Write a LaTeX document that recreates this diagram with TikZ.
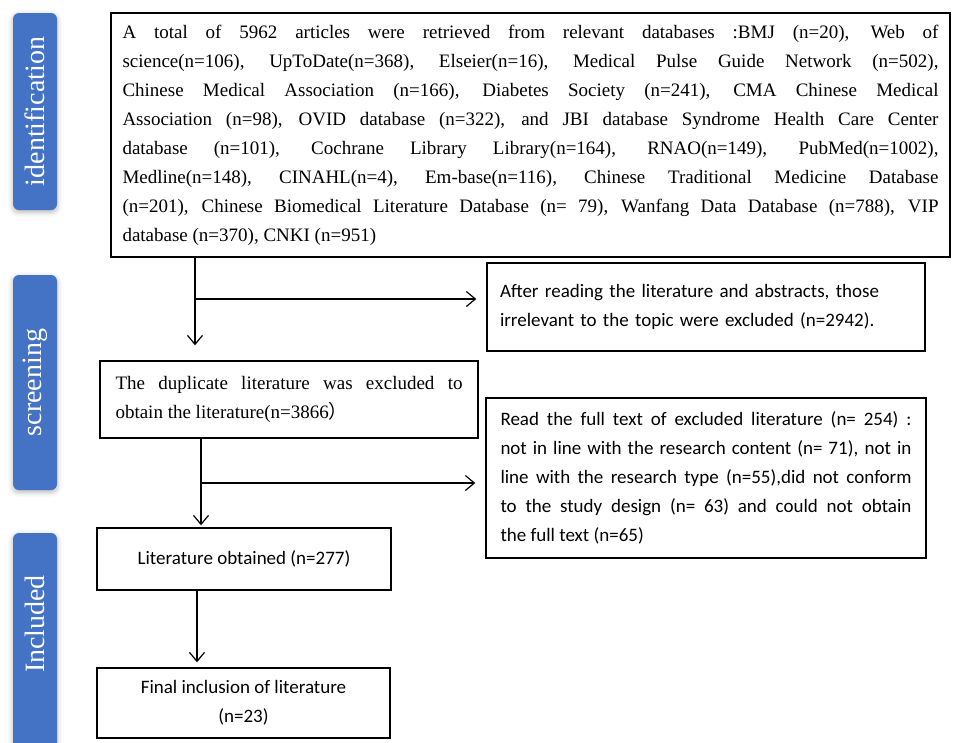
\documentclass[tikz,border=0pt]{standalone}
\usepackage{fontspec}
\setmainfont{Liberation Serif}
\newfontfamily\calfont{Carlito}
\newfontfamily\cjk{Noto Sans CJK SC}
\usetikzlibrary{arrows.meta,shadows.blur}
\definecolor{tabblue}{RGB}{68,114,196}

\begin{document}
\begin{tikzpicture}[
    x=1pt,y=-1pt,
    tab/.style={fill=tabblue,rounded corners=6pt,rotate=90,text=white,
      minimum height=44pt,inner sep=0pt,font=\fontsize{28}{30}\selectfont,
      blur shadow={shadow xshift=0pt,shadow yshift=-2pt,shadow blur radius=5pt,shadow opacity=30}},
    box/.style={draw,line width=1.4pt,inner sep=0pt},
    serifbox/.style={box,font=\fontsize{19}{29}\selectfont\sloppy,align=justify},
    calbox/.style={box,font=\calfont\fontsize{19}{29}\selectfont\sloppy},
    >={Straight Barb[length=9pt,width=15pt]},
    line width=1.2pt]
  \path[use as bounding box,clip] (0,0) rectangle (955,742);

  % phase tabs
  \node[tab,minimum width=197pt] (ident) at (35,111.5) {identification};
  \node[tab,minimum width=215pt] (screen) at (35,382.5) {screening};
  \node[tab,minimum width=227pt] (incl) at (35,646.5) {\hspace*{45pt}Included};

  % boxes
  \node[serifbox,line width=2.2pt,minimum width=839pt,minimum height=244pt,text width=816pt]
    (search) at (530.5,135) {A total of 5962 articles were retrieved from relevant databases :BMJ (n=20), Web of\linebreak
    science(n=106), UpToDate(n=368), Elseier(n=16), Medical Pulse Guide Network (n=502),\linebreak
    Chinese Medical Association (n=166), Diabetes Society (n=241), CMA Chinese Medical\linebreak
    Association (n=98), OVID database (n=322), and JBI database Syndrome Health Care Center\linebreak
    database (n=101), Cochrane Library Library(n=164), RNAO(n=149), PubMed(n=1002),\linebreak
    Medline(n=148), CINAHL(n=4), Em-base(n=116), Chinese Traditional Medicine Database\linebreak
    (n=201), Chinese Biomedical Literature Database (n= 79), Wanfang Data Database (n=788), VIP\linebreak
    database (n=370), CNKI (n=951)};
  \node[calbox,align=left,minimum width=438pt,minimum height=88pt,text width=412pt]
    (irrel) at (706,307) {After reading the literature and abstracts, those\\
    irrelevant to the topic were excluded (n=2942).};
  \node[serifbox,minimum width=378pt,minimum height=77pt,text width=347pt]
    (dedup) at (289,399.5) {The duplicate literature was excluded to\linebreak
    obtain the literature(n=3866{\cjk ）}};
  \node[calbox,align=justify,minimum width=440pt,minimum height=160pt,text width=411pt]
    (fulltext) at (706,478) {Read the full text of excluded literature (n= 254) :\linebreak
    not in line with the research content (n= 71), not in\linebreak
    line with the research type (n=55),did not conform\linebreak
    to the study design (n= 63) and could not obtain\linebreak
    the full text (n=65)};
  \node[calbox,align=center,minimum width=294pt,minimum height=62pt]
    (obtained) at (244,559) {Literature obtained (n=277)};
  \node[calbox,align=center,minimum width=293pt,minimum height=70pt]
    (final) at (243.5,703) {Final inclusion of literature\\(n=23)};

  % connectors
  \coordinate (split1) at (195,299);
  \coordinate (split2) at (201,483);
  \coordinate (down3) at (197,620);
  \draw[->,shorten >=15pt] (search.south -| split1) -- (dedup.north -| split1);
  \draw[->,shorten >=10pt] (split1) -- (irrel.west |- split1);
  \draw[->,shorten >=2pt] (dedup.south -| split2) -- (obtained.north -| split2);
  \draw[->,shorten >=10pt] (split2) -- (fulltext.west |- split2);
  \draw[->,shorten >=5pt] (obtained.south -| down3) -- (final.north -| down3);
\end{tikzpicture}
\end{document}
